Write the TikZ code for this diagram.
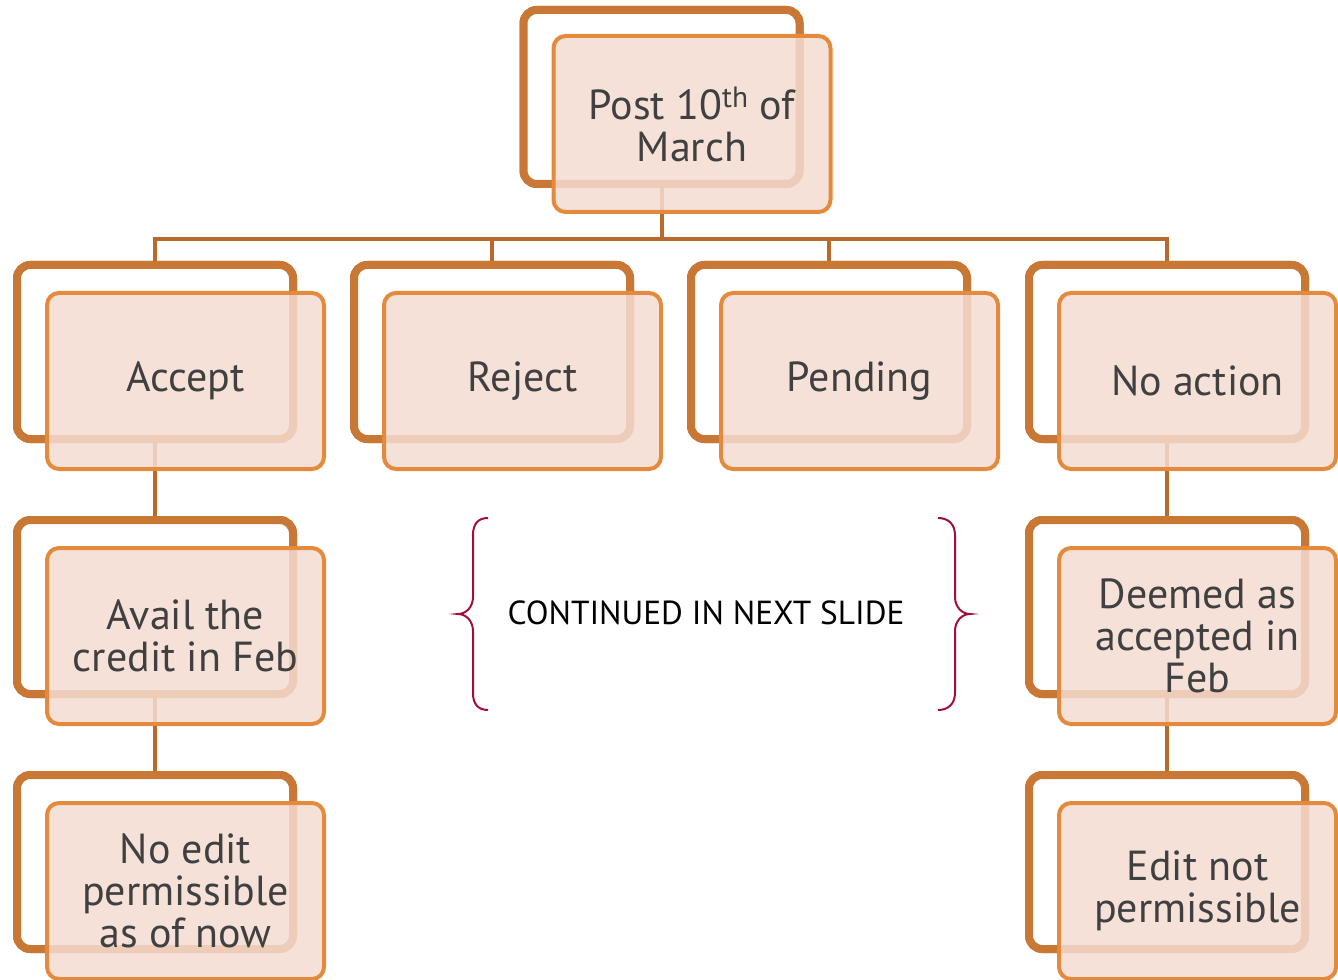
\documentclass[tikz,border=0pt]{standalone}
\usepackage{fontspec}
\setmainfont{PT Sans}
\definecolor{backC}{RGB}{200,120,52}
\definecolor{frontC}{RGB}{227,138,60}
\definecolor{fillC}{RGB}{244,220,210}
\definecolor{connC}{RGB}{184,106,44}
\definecolor{textC}{RGB}{64,64,64}
\definecolor{braceC}{RGB}{160,16,58}
\tikzset{
  backbox/.style={draw=backC, line width=6pt, rounded corners=10pt, fill=white,
    minimum width=207pt, minimum height=130.5pt, inner sep=0pt, outer sep=0pt},
  frontbox/.style={draw=frontC, line width=3pt, rounded corners=9pt, fill=fillC,
    fill opacity=0.85, text opacity=1, minimum width=207.75pt, minimum height=132pt,
    inner sep=0pt, outer sep=0pt, text=textC, align=center,
    font=\fontsize{31.5}{31.5}\selectfont},
  conn/.style={draw=connC, line width=3pt},
  bracepath/.style={draw=braceC, line width=1.5pt}
}
\begin{document}
\begin{tikzpicture}[x=0.75pt,y=-0.75pt]
\useasboundingbox (0,0) rectangle (1338,980);
% back boxes
\node[backbox] (topB) at (661.5,97) {};
\node[backbox] (accB) at (155,352) {};
\node[backbox] (rejB) at (492,352) {};
\node[backbox] (penB) at (829,352) {};
\node[backbox] (noB) at (1167,352) {};
\node[backbox] (avB) at (155,607) {};
\node[backbox] (neB) at (155,862) {};
\node[backbox] (deB) at (1167,607) {};
\node[backbox] (epB) at (1167,862) {};
\coordinate (bus) at (661.5,239);
% connectors
\draw[conn] (topB.south) -- (topB.south |- bus);
\draw[conn] (accB.north) |- (noB.north |- bus) -- (noB.north);
\draw[conn] (rejB.north) -- (rejB.north |- bus);
\draw[conn] (penB.north) -- (penB.north |- bus);
\draw[conn] (accB.south) -- (avB.north);
\draw[conn] (avB.south) -- (neB.north);
\draw[conn] (noB.south) -- (deB.north);
\draw[conn] (deB.south) -- (epB.north);
% redraw back boxes above connectors
\node[backbox] at (topB) {};
\node[backbox] at (accB) {};
\node[backbox] at (rejB) {};
\node[backbox] at (penB) {};
\node[backbox] at (noB) {};
\node[backbox] at (avB) {};
\node[backbox] at (neB) {};
\node[backbox] at (deB) {};
\node[backbox] at (epB) {};
% front boxes
\node[frontbox] (top) at (692,124) {Post 10\textsuperscript{th} of\\March};
\node[frontbox] (acc) at (185.5,381) {Accept};
\node[frontbox] (rej) at (522.5,381) {Reject};
\node[frontbox] (pen) at (859.5,381) {Pending};
\node[frontbox] (noa) at (1197.5,381) {No action};
\node[frontbox] (ava) at (185.5,636) {Avail the\\credit in Feb};
\node[frontbox] (noe) at (185.5,891) {No edit\\permissible\\as of now};
\node[frontbox] (dee) at (1197.5,636) {Deemed as\\accepted in\\Feb};
\node[frontbox] (edi) at (1197.5,891) {Edit not\\permissible};
% continued text and braces
\node[font=\fontsize{25}{30}\selectfont, text=black] (cont) at (706,613) {CONTINUED IN NEXT SLIDE};
\draw[bracepath] (488,518) .. controls (478,518) and (473,524) .. (473,535) -- (473,597)
  .. controls (473,607) and (466,614) .. (458,614)
  .. controls (466,614) and (473,621) .. (473,631) -- (473,693)
  .. controls (473,704) and (478,710) .. (488,710);
\draw[bracepath] (938,518) .. controls (948,518) and (955,524) .. (955,535) -- (955,597)
  .. controls (955,607) and (962,614) .. (970,614)
  .. controls (962,614) and (955,621) .. (955,631) -- (955,693)
  .. controls (955,704) and (948,710) .. (938,710);
\end{tikzpicture}
\end{document}
